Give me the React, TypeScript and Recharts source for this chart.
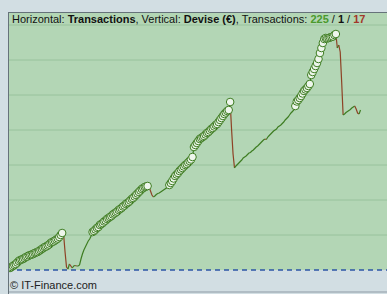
import {
  ComposedChart,
  Line,
  Scatter,
  XAxis,
  YAxis,
  CartesianGrid,
  ReferenceLine,
} from 'recharts';

// equity (€) after each transaction, split in phases; marked = drawn with a circle
const phaseA = [20, 30, 40, 50, 60, 75, 90, 100, 105, 110, 120, 130, 135, 145, 150, 155, 160, 170, 175, 180, 190, 200, 210, 220, 230, 235, 245, 255, 270, 280, 285, 295, 305, 315, 330, 350, 370];
const dropA = [355, 180, 30, 10, 60, 40, 20, 40, 45, 40, 40, 50, 110, 160, 200, 230, 260, 290, 310, 340];
const phaseB = [380, 390, 405, 420, 430, 450, 460, 470, 485, 495, 510, 520, 530, 540, 555, 565, 575, 585, 600, 610, 620, 635, 645, 660, 670, 680, 695, 710, 720, 735, 750, 765, 780, 795, 810, 820, 830, 835, 840];
const dropB = [830, 790, 750, 730, 740, 755, 765, 770, 780, 790, 800, 810, 820, 830];
const phaseC = [850, 870, 890, 915, 940, 955, 970, 990, 1005, 1020, 1035, 1050, 1060, 1075, 1090, 1105, 1130, 1230, 1250, 1270, 1290, 1310, 1320, 1330, 1340, 1355, 1370, 1380, 1395, 1410, 1420, 1435, 1450, 1460, 1480, 1500, 1520, 1540, 1560, 1575, 1590, 1600, 1680];
const dropC = [1400, 1160, 1020, 1040, 1055, 1070, 1085, 1100, 1120, 1130, 1140, 1155, 1170, 1175, 1190, 1200, 1215, 1230, 1240, 1255, 1270, 1285, 1300, 1310, 1305, 1330, 1345, 1360, 1375, 1390, 1400, 1410, 1430, 1440, 1450, 1465, 1480, 1500, 1515, 1530, 1550, 1570, 1585, 1600];
const phaseE = [1640, 1685, 1700, 1720, 1740, 1765, 1790, 1805, 1820, 1840, 1860, 1950, 1980, 2010, 2040, 2070, 2110, 2170, 2220, 2270, 2310, 2320, 2315, 2320, 2325, 2330, 2335, 2350, 2360];
const dropE = [2220, 2250, 2180, 1880, 1550, 1560, 1575, 1585, 1595, 1605, 1620, 1630, 1640, 1610, 1570, 1560, 1600];

const phases = [
  { values: phaseA, marked: true },
  { values: dropA, marked: false },
  { values: phaseB, marked: true },
  { values: dropB, marked: false },
  { values: phaseC, marked: true },
  { values: dropC, marked: false },
  { values: phaseE, marked: true },
  { values: dropE, marked: false },
];

const xTicks = [0, 50, 100, 150, 200, 250];
const gridValues = [350, 700, 1050, 1400, 1750, 2100, 2450];

const BG = '#d2dee3';
const PLOT = '#b3d6b5';
const GRID = '#98c29c';
const UP = '#3e7d22';
const DOWN = '#8e4226';

type Pt = { x: number; v: number; marked: boolean };

const points: Pt[] = [];
phases.forEach((p) =>
  p.values.forEach((v) => points.push({ x: points.length, v, marked: p.marked }))
);

// split into rising / falling runs so each gets its own colour
const runs: { up: boolean; pts: Pt[] }[] = [];
for (let i = 0; i < points.length - 1; i++) {
  const up = points[i + 1].v >= points[i].v;
  const last = runs[runs.length - 1];
  if (last && last.up === up) last.pts.push(points[i + 1]);
  else runs.push({ up, pts: [points[i], points[i + 1]] });
}

const marked = points.filter((p) => p.marked);

const Marker = (props: any) => (
  <circle cx={props.cx} cy={props.cy} r={3.8} fill="#eef6ec" stroke={UP} strokeWidth={1} />
);

export default function App() {
  return (
    <div
      style={{
        position: 'fixed',
        left: 0,
        top: 0,
        width: 387,
        height: 294,
        background: BG,
        overflow: 'hidden',
        fontFamily: '"Liberation Sans", Arial, sans-serif',
      }}
    >
      <div style={{ position: 'absolute', left: 8, top: 12, width: 379, height: 258, background: PLOT }} />
      <div style={{ position: 'absolute', left: 8, top: 12 }}>
        <ComposedChart width={379} height={300} margin={{ top: 0, right: 0, bottom: 0, left: 0 }}>
          <CartesianGrid vertical={false} horizontalValues={gridValues} stroke={GRID} />
          <XAxis
            type="number"
            dataKey="x"
            domain={[-1.4, 260.3]}
            ticks={xTicks}
            allowDataOverflow
            height={20}
            stroke="#8f9ba5"
            tick={false}
          />
          <YAxis type="number" dataKey="v" hide domain={[-220, 2580]} allowDataOverflow />
          <ReferenceLine y={0} stroke="#2d56a6" strokeDasharray="5 4" strokeWidth={1.3} />
          {runs.map((r, k) => (
            <Line
              key={k}
              data={r.pts}
              dataKey="v"
              type="linear"
              stroke={r.up ? UP : DOWN}
              strokeWidth={1.2}
              dot={false}
              activeDot={false}
              isAnimationActive={false}
            />
          ))}
          <Scatter data={marked} dataKey="v" shape={Marker} isAnimationActive={false} />
        </ComposedChart>
      </div>
      <div style={{ position: 'absolute', left: 8, top: 12, width: 379, height: 1, background: '#66727a' }} />
      <div style={{ position: 'absolute', left: 8, top: 12, width: 1, height: 282, background: '#66727a' }} />
      <div style={{ position: 'absolute', left: 12, top: 13, fontSize: 11, lineHeight: '13px', color: '#111', whiteSpace: 'nowrap' }}>
        Horizontal: <b>Transactions</b>, Vertical: <b>Devise (€)</b>, Transactions:{' '}
        <b style={{ color: '#4a9a2c' }}>225</b> / <b>1</b> / <b style={{ color: '#a2382a' }}>17</b>
      </div>
      <div style={{ position: 'absolute', left: 10, top: 279, fontSize: 11, lineHeight: '13px', color: '#222', whiteSpace: 'nowrap' }}>
        © IT-Finance.com
      </div>
    </div>
  );
}
